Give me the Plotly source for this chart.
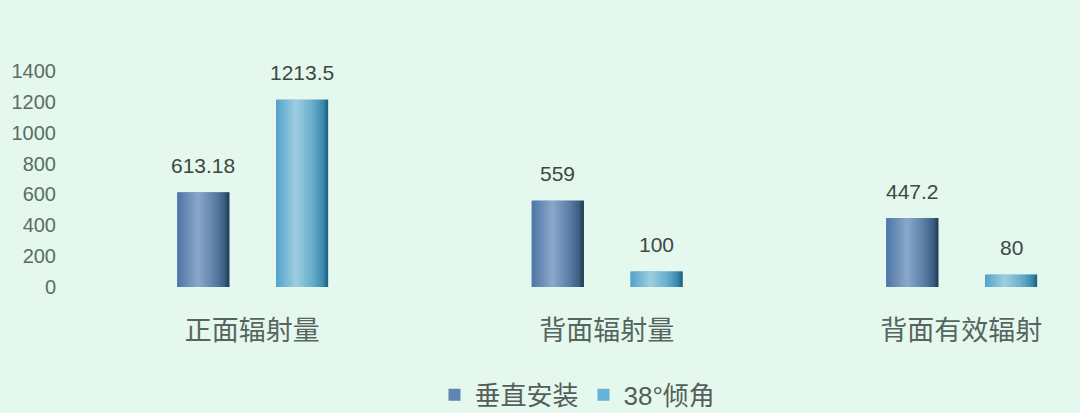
import plotly.graph_objects as go

categories = ["正面辐射量", "背面辐射量", "背面有效辐射"]
series_names = ["垂直安装", "38°倾角"]
vertical_vals = [613.18, 559, 447.2]
tilt38_vals = [1213.5, 100, 80]
y_ticks = [0, 200, 400, 600, 800, 1000, 1200, 1400]

FONT = "Liberation Sans, Arial, Noto Sans CJK SC, sans-serif"
BG = "#e5f8ee"

# gradient stops (position across the bar width, colour)
grad1 = [(0.0, (78, 118, 166)), (0.40, (138, 168, 202)), (0.72, (92, 126, 166)),
         (0.90, (60, 96, 132)), (1.0, (30, 58, 78))]
grad2 = [(0.0, (82, 162, 202)), (0.38, (158, 206, 224)), (0.70, (104, 174, 204)),
         (0.90, (58, 138, 176)), (1.0, (30, 92, 118))]


def interp(stops, t):
    for (p0, c0), (p1, c1) in zip(stops, stops[1:]):
        if p0 <= t <= p1:
            f = (t - p0) / (p1 - p0) if p1 > p0 else 0
            return "rgb(%d,%d,%d)" % tuple(round(a + (b - a) * f) for a, b in zip(c0, c1))
    return "rgb(%d,%d,%d)" % stops[-1][1]


bar_w = 0.147
offsets = [-0.2116, 0.0670]
N = 26

fig = go.Figure()
series = [(series_names[0], vertical_vals, grad1, "#5f86b2"),
          (series_names[1], tilt38_vals, grad2, "#66b2d6")]

for (name, vals, grad, base), off in zip(series, offsets):
    # base bar (legend entry)
    fig.add_trace(go.Bar(
        x=categories, y=vals, name=name, offset=off, width=bar_w,
        marker=dict(color=base, line=dict(width=0)), hoverinfo="skip",
    ))
    sw = bar_w / N
    for i in range(N):
        t = (i + 0.5) / N
        w = sw * 1.8 if i < N - 1 else sw
        fig.add_trace(go.Bar(
            x=categories, y=vals, offset=off + i * sw, width=w,
            marker=dict(color=interp(grad, t), line=dict(width=0)),
            showlegend=False, hoverinfo="skip",
        ))

# data labels
for vals, off in zip([vertical_vals, tilt38_vals], offsets):
    for c, v in zip(categories, vals):
        fig.add_annotation(
            x=c, y=v, xref="x", yref="y", text=f"{v:g}", showarrow=False,
            xshift=(off + bar_w / 2) * 354.5, yshift=27, yanchor="middle",
            font=dict(family=FONT, size=21, color="#3c4843"),
        )

fig.update_layout(
    width=1080, height=413,
    paper_bgcolor=BG, plot_bgcolor=BG,
    margin=dict(l=75, r=0, t=71, b=126),
    barmode="overlay",
    showlegend=True,
    legend=dict(orientation="h", x=0.5, xanchor="center", yref="container",
                y=0.044, yanchor="middle", font=dict(family=FONT, size=26, color="#555f5a"),
                bgcolor="rgba(0,0,0,0)", itemwidth=30),
    xaxis=dict(type="category", range=[-0.5, -0.5 + 1005 / 354.5], showgrid=False,
               zeroline=False, showline=False, ticks="", ticklabelstandoff=25,
               tickfont=dict(family=FONT, size=27, color="#56655d")),
    yaxis=dict(range=[0, 1400], tickvals=y_ticks, showgrid=False, zeroline=False,
               showline=False, ticks="", ticklabelstandoff=18,
               tickfont=dict(family=FONT, size=20, color="#5a6d64")),
    font=dict(family=FONT),
)

fig.write_html("out.html", config={"displayModeBar": False},
               post_script="document.body.style.margin='0';document.body.style.overflow='hidden';")
